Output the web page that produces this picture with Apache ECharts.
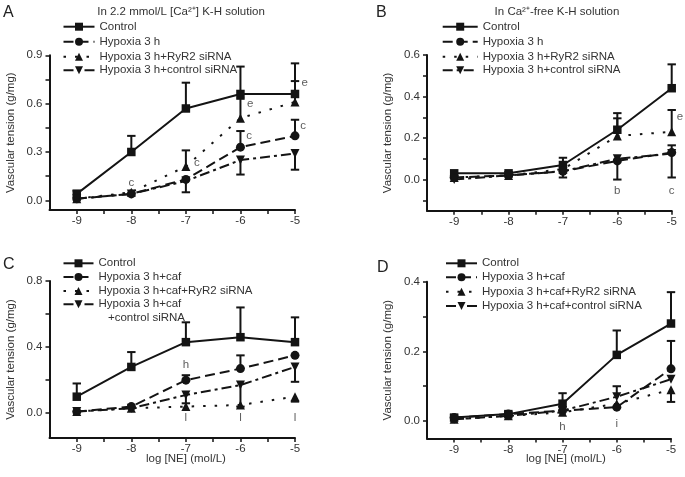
<!DOCTYPE html>
<html><head><meta charset="utf-8">
<script src="https://cdn.jsdelivr.net/npm/echarts@6/dist/echarts.min.js"></script>
<style>html,body{margin:0;padding:0;background:#fff}#c{width:685px;height:477px}</style>
</head><body><div id="c"></div>
<script>
// ---------- data ----------
const xValues = [-9, -8, -7, -6, -5];
const xTickLabels = ['-9', '-8', '-7', '-6', '-5'];
const xMinorTicks = [-8.5, -7.5, -6.5, -5.5];

// Panel A: In 2.2 mmol/L [Ca2+] K-H solution
const A_names = ['Control', 'Hypoxia 3 h', 'Hypoxia 3 h+RyR2 siRNA', 'Hypoxia 3 h+control siRNA'];
const A_control = [0.04, 0.30, 0.57, 0.66, 0.66];
const A_control_hi = [0.06, 0.40, 0.73, 0.83, 0.85];
const A_hyp = [0.01, 0.04, 0.13, 0.33, 0.40];
const A_hyp_hi = [null, null, null, 0.43, 0.50];
const A_hyp_lo = [null, null, 0.05, null, null];
const A_ryr = [0.01, 0.05, 0.21, 0.51, 0.61];
const A_ryr_hi = [null, null, 0.31, 0.63, 0.74];
const A_csi = [0.01, 0.04, 0.12, 0.25, 0.29];
const A_csi_lo = [null, null, null, 0.16, 0.19];
const A_yTicks = [0, 0.3, 0.6, 0.9];
const A_yMinor = [0.15, 0.45, 0.75];
const A_notes = [[-8, 0.11, 'c'], [-6.8, 0.23, 'c'], [-5.82, 0.60, 'e'], [-5.84, 0.40, 'c'], [-4.82, 0.73, 'e'], [-4.85, 0.46, 'c']];

// Panel B: In Ca2+-free K-H solution
const B_names = ['Control', 'Hypoxia 3 h', 'Hypoxia 3 h+RyR2 siRNA', 'Hypoxia 3 h+control siRNA'];
const B_control = [0.03, 0.03, 0.07, 0.24, 0.44];
const B_control_hi = [null, null, 0.105, 0.32, 0.555];
const B_hyp = [0.01, 0.02, 0.04, 0.09, 0.13];
const B_hyp_lo = [null, null, 0.01, 0.0, 0.01];
const B_ryr = [0.01, 0.02, 0.05, 0.21, 0.23];
const B_ryr_hi = [null, null, null, 0.295, 0.335];
const B_csi = [0.0, 0.02, 0.04, 0.10, 0.125];
const B_csi_hi = [null, null, null, null, 0.165];
const B_yTicks = [0, 0.2, 0.4, 0.6];
const B_yMinor = [-0.1, 0.1, 0.3, 0.5];
const B_notes = [[-6, -0.055, 'b'], [-5, -0.055, 'c'], [-4.85, 0.30, 'e']];

// Panel C
const C_names = ['Control', 'Hypoxia 3 h+caf', 'Hypoxia 3 h+caf+RyR2 siRNA', 'Hypoxia 3 h+caf'];
const C_control = [0.10, 0.28, 0.43, 0.46, 0.43];
const C_control_hi = [0.18, 0.37, 0.55, 0.64, 0.58];
const C_hyp = [0.01, 0.04, 0.20, 0.27, 0.35];
const C_hyp_hi = [null, null, 0.23, 0.35, null];
const C_ryr = [0.01, 0.03, 0.04, 0.05, 0.10];
const C_ryr_lo = [null, null, null, null, 0.07];
const C_csi = [0.01, 0.03, 0.11, 0.17, 0.28];
const C_csi_lo = [null, null, 0.06, 0.04, 0.19];
const C_yTicks = [0, 0.4, 0.8];
const C_yMinor = [0.2, 0.6];
const C_notes = [[-7, 0.29, 'h'], [-7, -0.025, 'l'], [-6, -0.025, 'l'], [-5, -0.025, 'l']];

// Panel D
const D_names = ['Control', 'Hypoxia 3 h+caf', 'Hypoxia 3 h+caf+RyR2 siRNA', 'Hypoxia 3 h+caf+control siRNA'];
const D_control = [0.01, 0.02, 0.05, 0.19, 0.28];
const D_control_hi = [null, null, 0.08, 0.26, 0.37];
const D_hyp = [0.01, 0.02, 0.03, 0.04, 0.15];
const D_hyp_hi = [null, null, null, null, 0.23];
const D_ryr = [0.005, 0.015, 0.025, 0.05, 0.09];
const D_ryr_lo = [null, null, null, null, 0.055];
const D_csi = [0.005, 0.015, 0.03, 0.07, 0.12];
const D_csi_hi = [null, null, null, 0.10, null];
const D_yTicks = [0, 0.2, 0.4];
const D_yMinor = [0.1, 0.3];
const D_notes = [[-7, -0.017, 'h'], [-6, -0.008, 'i']];

// ---------- styling / layout ----------
const INK = '#141414';
const TXT = '#333';
const FONT = '"Liberation Sans", Arial, sans-serif';
const roles = [
  { symbol: 'rect', size: 8.5, rotate: 0, dash: 'solid' },
  { symbol: 'circle', size: 9, rotate: 0, dash: [10, 5] },
  { symbol: 'triangle', size: 9, rotate: 0, dash: [2.5, 9] },
  { symbol: 'triangle', size: 9, rotate: 180, dash: [10, 4, 3, 4] }
];

const panels = [
  { key: 'A', grid: { left: 49.5, top: 55.3, width: 245.5, height: 154.7 }, ymin: -0.06, ymax: 0.9,
    yTicks: A_yTicks, yMinor: A_yMinor, names: A_names,
    vals: [A_control, A_hyp, A_ryr, A_csi], hi: [A_control_hi, A_hyp_hi, A_ryr_hi, null], lo: [null, A_hyp_lo, null, A_csi_lo],
    notes: A_notes, legLeft: 62.5, legTops: [26.7, 41.7, 56.7, 70.2], legW: 31 },
  { key: 'B', grid: { left: 427, top: 55, width: 244.7, height: 155.7 }, ymin: -0.15, ymax: 0.6,
    yTicks: B_yTicks, yMinor: B_yMinor, names: B_names,
    vals: [B_control, B_hyp, B_ryr, B_csi], hi: [B_control_hi, null, B_ryr_hi, B_csi_hi], lo: [null, B_hyp_lo, null, null],
    notes: B_notes, legLeft: 441.7, legTops: [26.7, 41.7, 56.7, 70.2], legW: 35 },
  { key: 'C', grid: { left: 49.5, top: 281, width: 245.5, height: 157 }, ymin: -0.15, ymax: 0.8,
    yTicks: C_yTicks, yMinor: C_yMinor, names: C_names,
    vals: [C_control, C_hyp, C_ryr, C_csi], hi: [C_control_hi, C_hyp_hi, null, null], lo: [null, null, C_ryr_lo, C_csi_lo],
    notes: C_notes, legLeft: 62.5, legTops: [263.3, 276.9, 291, 304.3], legW: 30 },
  { key: 'D', grid: { left: 427, top: 281.7, width: 244, height: 156.8 }, ymin: -0.05, ymax: 0.4,
    yTicks: D_yTicks, yMinor: D_yMinor, names: D_names,
    vals: [D_control, D_hyp, D_ryr, D_csi], hi: [D_control_hi, D_hyp_hi, null, D_csi_hi], lo: [null, null, D_ryr_lo, null],
    notes: D_notes, legLeft: 445, legTops: [263.3, 277.3, 291.7, 306], legW: 31 }
];

function errRender(params, api) {
  const x = api.value(0), m = api.value(1), e = api.value(2);
  const p0 = api.coord([x, m]), p1 = api.coord([x, e]);
  const hw = 4.2;
  return { type: 'group', children: [
    { type: 'line', shape: { x1: p0[0], y1: p0[1], x2: p1[0], y2: p1[1] }, style: { stroke: INK, lineWidth: 2 } },
    { type: 'line', shape: { x1: p1[0] - hw, y1: p1[1], x2: p1[0] + hw, y2: p1[1] }, style: { stroke: INK, lineWidth: 2 } }
  ] };
}

const option = { animation: false, backgroundColor: '#fff', textStyle: { fontFamily: FONT },
  grid: [], xAxis: [], yAxis: [], series: [], legend: [], title: [] };

panels.forEach((p, gi) => {
  option.grid.push(Object.assign({ containLabel: false }, p.grid));
  const xi = option.xAxis.length;
  option.xAxis.push({ type: 'value', gridIndex: gi, min: -9.5, max: -5, position: 'bottom',
    axisLine: { onZero: false, lineStyle: { color: INK, width: 2 } },
    axisTick: { customValues: xValues.concat(xMinorTicks), length: 4, lineStyle: { color: INK, width: 1.5 } },
    axisLabel: { customValues: xValues, margin: 5, fontSize: 11.5, color: TXT, fontFamily: FONT,
      formatter: v => xTickLabels[xValues.indexOf(Math.round(v))] },
    splitLine: { show: false } });
  const yi = option.yAxis.length;
  option.yAxis.push({ type: 'value', gridIndex: gi, min: p.ymin, max: p.ymax, position: 'left',
    name: 'Vascular tension (g/mg)', nameLocation: 'middle', nameGap: 33,
    nameTextStyle: { fontSize: 11.5, color: TXT, fontFamily: FONT },
    axisLine: { onZero: false, lineStyle: { color: INK, width: 2 } },
    axisTick: { customValues: p.yTicks.concat(p.yMinor), length: 4, lineStyle: { color: INK, width: 1.5 } },
    axisLabel: { customValues: p.yTicks, margin: 7, fontSize: 11.5, color: TXT, fontFamily: FONT, formatter: v => v.toFixed(1) },
    splitLine: { show: false } });

  p.vals.forEach((vals, si) => {
    const r = roles[si];
    const sname = p.key + ': ' + p.names[si] + (p.key === 'C' && si === 3 ? ' +control siRNA' : '');
    option.series.push({ type: 'line', name: sname, xAxisIndex: xi, yAxisIndex: yi,
      data: vals.map((v, i) => [xValues[i], v]), symbol: r.symbol, symbolSize: r.size, symbolRotate: r.rotate,
      showSymbol: true, lineStyle: { color: INK, width: 2, type: r.dash }, itemStyle: { color: INK, borderWidth: 0 },
      z: 3 });
    const errData = [];
    [p.hi[si], p.lo[si]].forEach(arr => { if (arr) arr.forEach((e, i) => { if (e !== null) errData.push([xValues[i], vals[i], e]); }); });
    if (errData.length) option.series.push({ type: 'custom', xAxisIndex: xi, yAxisIndex: yi, renderItem: errRender,
      data: errData, z: 2, silent: true });
    option.legend.push({ data: [sname], left: p.legLeft, top: p.legTops[si] - 7, orient: 'vertical', padding: 0,
      itemWidth: p.legW, itemHeight: 10, itemGap: 0, formatter: p.names[si], selectedMode: false,
      textStyle: { fontSize: 11.5, color: TXT, fontFamily: FONT, lineHeight: 14, padding: [0, 0, 0, 0] } });
  });
  option.series.push({ type: 'scatter', xAxisIndex: xi, yAxisIndex: yi, clip: false, symbolSize: 0, silent: true,
    data: p.notes.map(n => [n[0], n[1], n[2]]),
    label: { show: true, position: 'inside', formatter: pr => pr.value[2], fontSize: 11.5, color: TXT, fontFamily: FONT } });
});

// titles, panel letters, axis names
const tStyle = { fontSize: 11.5, fontWeight: 'normal', color: TXT, fontFamily: FONT };
const lStyle = { fontSize: 16, fontWeight: 'normal', color: '#222', fontFamily: FONT };
option.title = [
  { text: 'A', left: 3, top: 5, padding: 0, textStyle: lStyle },
  { text: 'B', left: 376, top: 5, padding: 0, textStyle: lStyle },
  { text: 'C', left: 3, top: 257, padding: 0, textStyle: lStyle },
  { text: 'D', left: 377, top: 260, padding: 0, textStyle: lStyle },
  { text: 'In 2.2 mmol/L [Ca²⁺] K-H solution', left: 181, top: 5.5, padding: 0, textAlign: 'center', textStyle: tStyle },
  { text: 'In Ca²⁺-free K-H solution', left: 557, top: 5.5, padding: 0, textAlign: 'center', textStyle: tStyle },
  { text: '+control siRNA', left: 108, top: 311.5, padding: 0, textStyle: tStyle },
  { text: 'log [NE] (mol/L)', left: 186, top: 453, padding: 0, textAlign: 'center', textStyle: tStyle },
  { text: 'log [NE] (mol/L)', left: 566, top: 453, padding: 0, textAlign: 'center', textStyle: tStyle }
];

const chart = echarts.init(document.getElementById('c'), null, { renderer: 'canvas' });
chart.setOption(option);
</script></body></html>
